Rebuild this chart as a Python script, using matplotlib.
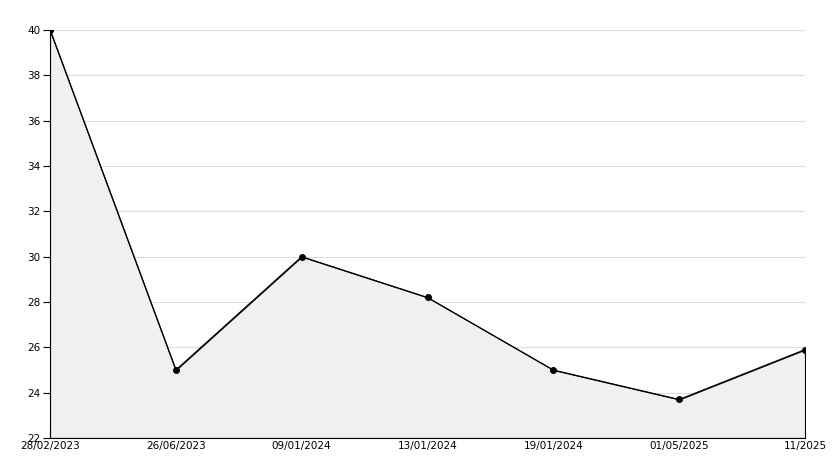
import matplotlib.pyplot as plt
from matplotlib.ticker import MultipleLocator

# data
dates = ["28/02/2023", "26/06/2023", "09/01/2024", "13/01/2024",
         "19/01/2024", "01/05/2025", "11/2025"]
values = [40, 25, 30, 28.2, 25, 23.7, 25.9]

fig = plt.figure(figsize=(8.34, 4.68), dpi=100)
ax = fig.add_axes([50 / 834, 30 / 468, 755 / 834, 408 / 468])

x = list(range(len(dates)))
ax.fill_between(x, values, 22, facecolor="#f0f0f0", edgecolor="black",
                linewidth=0.8, zorder=2)
ax.plot(x, values, color="black", lw=0.8, marker="o", ms=4, zorder=3)

ax.set_xlim(0, len(dates) - 1)
ax.set_ylim(22, 40)
ax.set_xticks(x)
ax.set_xticklabels(dates)
ax.yaxis.set_major_locator(MultipleLocator(2))
ax.yaxis.set_minor_locator(MultipleLocator(1))
ax.grid(axis="y", which="major", color="#dddddd", lw=0.8, zorder=1)
ax.set_axisbelow(True)

for s in ("top", "right"):
    ax.spines[s].set_visible(False)
ax.tick_params(axis="y", which="major", direction="out", length=5, labelsize=7.5, pad=2)
ax.tick_params(axis="y", which="minor", direction="in", length=4)
ax.tick_params(axis="x", direction="in", length=5, labelsize=7.5, pad=2)

fig.savefig("out.png", dpi=100)
